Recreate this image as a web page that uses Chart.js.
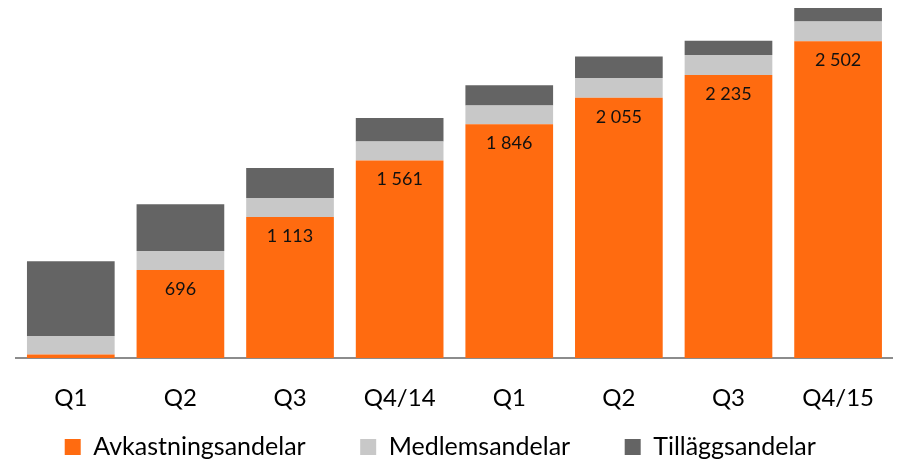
<!DOCTYPE html>
<html>
<head>
<meta charset="utf-8">
<script src="https://cdn.jsdelivr.net/npm/chart.js@4"></script>
<style>
  html, body { margin: 0; padding: 0; background: #fff; }
  #wrap { width: 900px; height: 462px; }
</style>
</head>
<body>
<div id="wrap"><canvas id="grafico"></canvas></div>
<script>
// Kvartal
const kvartal = ['Q1', 'Q2', 'Q3', 'Q4/14', 'Q1', 'Q2', 'Q3', 'Q4/15'];

// Serier (läst ur bilden)
const avkastningsandelar = [28, 696, 1113, 1561, 1846, 2055, 2235, 2502];
const medlemsandelar = [145, 150, 150, 150, 148, 156, 158, 156];
const tillaggsandelar = [592, 369, 237, 184, 160, 171, 113, 107];

const yMax = 2828;

// Siffror i de orange staplarna
const formatTal = v => String(v).replace(/\B(?=(\d{3})+(?!\d))/g, ' ');

const stapelEtiketter = {
  id: 'stapelEtiketter',
  afterDatasetsDraw(chart) {
    const ctx = chart.ctx;
    const meta = chart.getDatasetMeta(0);
    ctx.save();
    ctx.font = '18px Lato';
    ctx.fillStyle = '#111';
    ctx.textAlign = 'center';
    ctx.textBaseline = 'middle';
    meta.data.forEach((bar, i) => {
      if (bar.base - bar.y < 30) return;
      ctx.fillText(formatTal(avkastningsandelar[i]), bar.x, bar.y + 19);
    });
    ctx.restore();
  }
};

const ctx = document.getElementById('grafico').getContext('2d');
const grafico = new Chart(ctx, {
  type: 'bar',
  data: {
    labels: kvartal,
    datasets: [
      { label: 'Avkastningsandelar', data: avkastningsandelar, backgroundColor: '#FF6B10' },
      { label: 'Medlemsandelar', data: medlemsandelar, backgroundColor: '#C8C8C8' },
      { label: 'Tilläggsandelar', data: tillaggsandelar, backgroundColor: '#646464' }
    ]
  },
  options: {
    responsive: true,
    maintainAspectRatio: false,
    animation: false,
    layout: {
      padding: { left: 16, right: -3, top: 0, bottom: -7.5 }
    },
    datasets: {
      bar: { barPercentage: 0.8, categoryPercentage: 1.0, borderWidth: 0 }
    },
    scales: {
      x: {
        stacked: true,
        grid: { display: false, drawTicks: false },
        border: { display: true, color: '#8C8C8C', width: 2 },
        ticks: {
          color: '#000',
          font: { family: 'Lato', size: 24 },
          padding: 26,
          maxRotation: 0,
          autoSkip: false
        },
        afterFit(scale) { scale.height = 54; }
      },
      y: {
        stacked: true,
        display: false,
        min: 0,
        max: yMax
      }
    },
    plugins: {
      legend: {
        position: 'bottom',
        align: 'center',
        labels: {
          boxWidth: 16,
          boxHeight: 16,
          padding: 22.5,
          color: '#000',
          font: { family: 'Lato', size: 25 },
          // extra luft mellan posterna
          generateLabels(chart) {
            const items = Chart.defaults.plugins.legend.labels.generateLabels(chart);
            items.forEach((it, i) => { it.text = it.text + (i === items.length - 1 ? '      ' : '     '); });
            return items;
          }
        }
      },
      tooltip: { enabled: false }
    }
  },
  plugins: [stapelEtiketter]
});
</script>
</body>
</html>
